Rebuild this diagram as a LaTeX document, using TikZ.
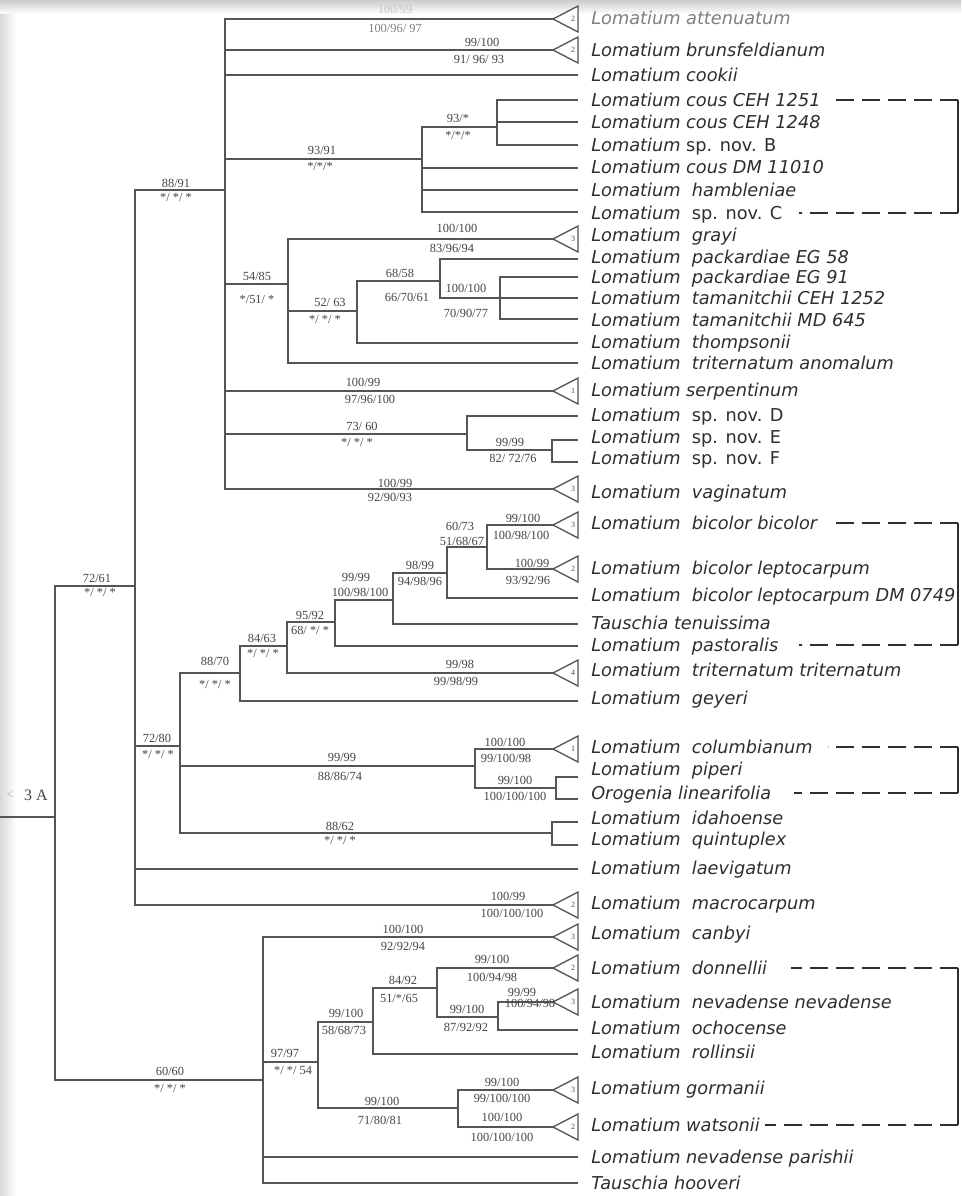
\documentclass[tikz,border=0pt]{standalone}
\usepackage{fontspec}
\setmainfont{Liberation Serif}
\newfontfamily\taxfont{DejaVu Sans}
\usetikzlibrary{calc}
\definecolor{lc}{HTML}{555555}
\definecolor{tc}{HTML}{2E2E2E}
\definecolor{sc}{HTML}{454545}
\newcommand\Lo{Lomatium\hspace{0.64em}}
\begin{document}
\begin{tikzpicture}[x=0.75pt,y=-0.75pt,
  br/.style={draw=lc,line width=1.3pt},
  sup/.style={font=\fontsize{9.3}{10}\selectfont,text=sc,inner sep=0pt},
  tax/.style={font=\taxfont\itshape\fontsize{13.3}{15}\selectfont,text=tc,anchor=base west,inner sep=0pt},
  clade/.style={draw=lc,line width=1pt,fill=white},
  cnum/.style={font=\fontsize{6}{6}\selectfont,text=sc,inner sep=0pt},
  dsh/.style={draw=tc,line width=1.4pt,dash pattern=on 13.5pt off 6pt},
  vbar/.style={draw=tc,line width=1pt}]
\useasboundingbox (0,0) rectangle (961,1196);
\fill[white] (0,0) rectangle (961,1196);
\shade[top color=gray!40,bottom color=white] (0,0) rectangle (961,14);
\shade[left color=gray!30,right color=white] (0,14) rectangle (16,1196);

% ---------- internal nodes ----------
\coordinate (S0) at (0,817);
\coordinate (R) at (55,817);
\coordinate (A) at (135,586);
\coordinate (B) at (263,1080);
\coordinate (A1) at (225,190);
\coordinate (A2) at (180,746);
\coordinate (C1) at (422,159);
\coordinate (C2) at (497,127);
\coordinate (C3) at (288,284);
\coordinate (C4) at (357,311);
\coordinate (C5) at (440,281);
\coordinate (C6) at (500,298);
\coordinate (C7) at (467,434);
\coordinate (C8) at (552,450);
\coordinate (D1) at (240,673);
\coordinate (D2) at (287,646);
\coordinate (D3) at (335,622);
\coordinate (D4) at (393,600);
\coordinate (D5) at (447,573);
\coordinate (D6) at (487,547);
\coordinate (D7) at (475,766);
\coordinate (D8) at (556,788);
\coordinate (D9) at (552,833);
\coordinate (E1) at (318,1062);
\coordinate (E2) at (373,1022);
\coordinate (E3) at (437,988);
\coordinate (E4) at (498,1017);
\coordinate (E5) at (458,1108);

% ---------- tips ----------
\coordinate (t01) at (553,19);
\coordinate (t02) at (553,50);
\coordinate (t03) at (578,75);
\coordinate (t04) at (578,100);
\coordinate (t05) at (578,122);
\coordinate (t06) at (578,145);
\coordinate (t07) at (578,168);
\coordinate (t08) at (578,190);
\coordinate (t09) at (578,212);
\coordinate (t10) at (553,239);
\coordinate (t11) at (578,259);
\coordinate (t12) at (578,277);
\coordinate (t13) at (578,298);
\coordinate (t14) at (578,319);
\coordinate (t15) at (578,343);
\coordinate (t16) at (578,363);
\coordinate (t17) at (553,391);
\coordinate (t18) at (578,416);
\coordinate (t19) at (578,440);
\coordinate (t20) at (578,462);
\coordinate (t21) at (553,489);
\coordinate (t22) at (553,525);
\coordinate (t23) at (553,569);
\coordinate (t24) at (578,598);
\coordinate (t25) at (578,624);
\coordinate (t26) at (578,646);
\coordinate (t27) at (553,673);
\coordinate (t28) at (578,701);
\coordinate (t29) at (553,749);
\coordinate (t30) at (578,777);
\coordinate (t31) at (578,799);
\coordinate (t32) at (578,822);
\coordinate (t33) at (578,845);
\coordinate (t34) at (578,869);
\coordinate (t35) at (553,905);
\coordinate (t36) at (553,937);
\coordinate (t37) at (553,968);
\coordinate (t38) at (553,1002);
\coordinate (t39) at (578,1030);
\coordinate (t40) at (578,1054);
\coordinate (t41) at (553,1090);
\coordinate (t42) at (553,1127);
\coordinate (t43) at (578,1157);
\coordinate (t44) at (578,1183);

% ---------- branches ----------
\draw[br] (S0) -- (R);
\foreach \p/\c in {R/A,R/B,A/A1,A/A2,A/t34,A/t35,
  A1/t01,A1/t02,A1/t03,A1/C1,A1/C3,A1/t17,A1/C7,A1/t21,
  C1/C2,C1/t07,C1/t08,C1/t09,C2/t04,C2/t05,C2/t06,
  C3/t10,C3/C4,C3/t16,C4/C5,C4/t15,C5/t11,C5/C6,C6/t12,C6/t13,C6/t14,
  C7/t18,C7/C8,C8/t19,C8/t20,
  A2/D1,A2/D7,A2/D9,D1/D2,D1/t28,D2/D3,D2/t27,D3/D4,D3/t26,D4/D5,D4/t25,
  D5/D6,D5/t24,D6/t22,D6/t23,D7/t29,D7/D8,D8/t30,D8/t31,D9/t32,D9/t33,
  B/t36,B/E1,B/t43,B/t44,E1/E2,E1/E5,E2/E3,E2/t40,E3/t37,E3/E4,E4/t38,E4/t39,
  E5/t41,E5/t42}
  \draw[br] (\p) |- (\c);

% ---------- collapsed clades ----------
\foreach \t/\n in {t01/2,t02/2,t10/3,t17/1,t21/3,t22/3,t23/2,t27/4,t29/1,
  t35/2,t36/3,t37/2,t38/3,t41/3,t42/2}{
  \draw[clade] (\t) -- ++(25,-13) -- ++(0,26) -- cycle;
  \node[cnum] (k\t) at ($(\t)+(20,0)$) {\n};
}

% ---------- taxa ----------
\node[tax,text=gray] (n01) at (591,24) {Lomatium attenuatum};
\node[tax] (n02) at (591,56) {Lomatium brunsfeldianum};
\node[tax] (n03) at (591,81) {Lomatium cookii};
\node[tax] (n04) at (591,106) {Lomatium cous CEH 1251};
\node[tax] (n05) at (591,128) {Lomatium cous CEH 1248};
\node[tax] (n06) at (591,151) {Lomatium {\upshape sp. nov. B}};
\node[tax] (n07) at (591,173) {Lomatium cous DM 11010};
\node[tax] (n08) at (591,196) {\Lo hambleniae};
\node[tax] (n09) at (591,219) {\Lo {\upshape sp. nov. C}};
\node[tax] (n10) at (591,241) {\Lo grayi};
\node[tax] (n11) at (591,263) {\Lo packardiae EG 58};
\node[tax] (n12) at (591,283) {\Lo packardiae EG 91};
\node[tax] (n13) at (591,304) {\Lo tamanitchii CEH 1252};
\node[tax] (n14) at (591,326) {\Lo tamanitchii MD 645};
\node[tax] (n15) at (591,348) {\Lo thompsonii};
\node[tax] (n16) at (591,369) {\Lo triternatum anomalum};
\node[tax] (n17) at (591,396) {Lomatium serpentinum};
\node[tax] (n18) at (591,421) {\Lo {\upshape sp. nov. D}};
\node[tax] (n19) at (591,443) {\Lo {\upshape sp. nov. E}};
\node[tax] (n20) at (591,464) {\Lo {\upshape sp. nov. F}};
\node[tax] (n21) at (591,498) {\Lo vaginatum};
\node[tax] (n22) at (591,529) {\Lo bicolor bicolor};
\node[tax] (n23) at (591,574) {\Lo bicolor leptocarpum};
\node[tax] (n24) at (591,601) {\Lo bicolor leptocarpum DM 0749};
\node[tax] (n25) at (591,629) {Tauschia tenuissima};
\node[tax] (n26) at (591,651) {\Lo pastoralis};
\node[tax] (n27) at (591,676) {\Lo triternatum triternatum};
\node[tax] (n28) at (591,704) {\Lo geyeri};
\node[tax] (n29) at (591,753) {\Lo columbianum};
\node[tax] (n30) at (591,775) {\Lo piperi};
\node[tax] (n31) at (591,799) {Orogenia linearifolia};
\node[tax] (n32) at (591,824) {\Lo idahoense};
\node[tax] (n33) at (591,845) {\Lo quintuplex};
\node[tax] (n34) at (591,874) {\Lo laevigatum};
\node[tax] (n35) at (591,909) {\Lo macrocarpum};
\node[tax] (n36) at (591,939) {\Lo canbyi};
\node[tax] (n37) at (591,974) {\Lo donnellii};
\node[tax] (n38) at (591,1008) {\Lo nevadense nevadense};
\node[tax] (n39) at (591,1034) {\Lo ochocense};
\node[tax] (n40) at (591,1058) {\Lo rollinsii};
\node[tax] (n41) at (591,1094) {Lomatium gormanii};
\node[tax] (n42) at (591,1131) {Lomatium watsonii};
\node[tax] (n43) at (591,1163) {Lomatium nevadense parishii};
\node[tax] (n44) at (591,1189) {Tauschia hooveri};

% ---------- dashed brackets ----------
\coordinate (rx) at (958,0);
\path ($(n04.base east)+(8,-6)$) coordinate (b1s);
\path ($(n09.base east)+(16,-6)$) coordinate (b1e);
\path ($(n22.base east)+(11,-6)$) coordinate (b2s);
\path ($(n26.base east)+(20,-6)$) coordinate (b2e);
\path ($(n29.base east)+(15,-6)$) coordinate (b3s);
\path ($(n31.base east)+(23,-6)$) coordinate (b3e);
\path ($(n37.base east)+(24,-6)$) coordinate (b4s);
\path ($(n42.base east)+(5,-6)$) coordinate (b4e);
\foreach \s/\e in {b1s/b1e,b2s/b2e,b3s/b3e,b4s/b4e}{
  \draw[dsh] (\s -| rx) -- (\s);
  \draw[dsh] (\e -| rx) -- (\e);
  \draw[vbar] (\s -| rx) -- (\e -| rx);
}

% ---------- root label ----------
\node[font=\fontsize{12}{12}\selectfont,text=sc] (lab3A) at (36,795) {3 A};
\node[font=\fontsize{9}{9}\selectfont,text=gray!70] (labarr) at (10,795) {<};

% ---------- support values ----------
\node[sup,text=gray!45] (s01a) at (395,9) {100/99};
\node[sup,text=gray] (s01b) at (395,28) {100/96/ 97};
\node[sup] (s02a) at (482,42) {99/100};
\node[sup] (s02b) at (479,59) {91/ 96/ 93};
\node[sup] (sC1a) at (322,150) {93/91};
\node[sup] (sC1b) at (320,166) {*/*/*};
\node[sup] (sC2a) at (458,118) {93/*};
\node[sup] (sC2b) at (458,135) {*/*/*};
\node[sup] (s10a) at (457,228) {100/100};
\node[sup] (s10b) at (452,248) {83/96/94};
\node[sup] (sC3a) at (257,276) {54/85};
\node[sup] (sC3b) at (257,299) {*/51/ *};
\node[sup] (sC5a) at (400,273) {68/58};
\node[sup] (sC5b) at (407,297) {66/70/61};
\node[sup] (sC6a) at (466,288) {100/100};
\node[sup] (sC6b) at (466,313) {70/90/77};
\node[sup] (sC4a) at (330,302) {52/ 63};
\node[sup] (sC4b) at (325,319) {*/ */ *};
\node[sup] (s17a) at (363,382) {100/99};
\node[sup] (s17b) at (370,399) {97/96/100};
\node[sup] (sC7a) at (362,426) {73/ 60};
\node[sup] (sC7b) at (357,442) {*/ */ *};
\node[sup] (sC8a) at (510,442) {99/99};
\node[sup] (sC8b) at (513,458) {82/ 72/76};
\node[sup] (s21a) at (395,483) {100/99};
\node[sup] (s21b) at (390,497) {92/90/93};
\node[sup] (sA1a) at (176,183) {88/91};
\node[sup] (sA1b) at (176,197) {*/ */ *};
\node[sup] (sAa) at (97,578) {72/61};
\node[sup] (sAb) at (100,592) {*/ */ *};
\node[sup] (sA2a) at (157,738) {72/80};
\node[sup] (sA2b) at (158,754) {*/ */ *};
\node[sup] (sD1a) at (215,661) {88/70};
\node[sup] (sD1b) at (215,684) {*/ */ *};
\node[sup] (sD2a) at (262,638) {84/63};
\node[sup] (sD2b) at (263,653) {*/ */ *};
\node[sup] (sD3a) at (310,615) {95/92};
\node[sup] (sD3b) at (310,630) {68/ */ *};
\node[sup] (sD4a) at (356,577) {99/99};
\node[sup] (sD4b) at (360,592) {100/98/100};
\node[sup] (sD5a) at (420,565) {98/99};
\node[sup] (sD5b) at (420,581) {94/98/96};
\node[sup] (sD6a) at (460,526) {60/73};
\node[sup] (sD6b) at (462,541) {51/68/67};
\node[sup] (s22a) at (523,518) {99/100};
\node[sup] (s22b) at (521,535) {100/98/100};
\node[sup] (s23a) at (532,563) {100/99};
\node[sup] (s23b) at (528,580) {93/92/96};
\node[sup] (s27a) at (460,664) {99/98};
\node[sup] (s27b) at (456,681) {99/98/99};
\node[sup] (sD7a) at (342,757) {99/99};
\node[sup] (sD7b) at (340,776) {88/86/74};
\node[sup] (s29a) at (505,742) {100/100};
\node[sup] (s29b) at (506,758) {99/100/98};
\node[sup] (sD8a) at (515,780) {99/100};
\node[sup] (sD8b) at (515,796) {100/100/100};
\node[sup] (sD9a) at (340,826) {88/62};
\node[sup] (sD9b) at (340,840) {*/ */ *};
\node[sup] (s35a) at (508,896) {100/99};
\node[sup] (s35b) at (512,913) {100/100/100};
\node[sup] (sBa) at (170,1071) {60/60};
\node[sup] (sBb) at (170,1088) {*/ */ *};
\node[sup] (s36a) at (403,929) {100/100};
\node[sup] (s36b) at (403,946) {92/92/94};
\node[sup] (sE1a) at (285,1053) {97/97};
\node[sup] (sE1b) at (293,1070) {*/ */ 54};
\node[sup] (sE2a) at (346,1013) {99/100};
\node[sup] (sE2b) at (344,1030) {58/68/73};
\node[sup] (sE3a) at (403,980) {84/92};
\node[sup] (sE3b) at (399,998) {51/*/65};
\node[sup] (s37a) at (492,959) {99/100};
\node[sup] (s37b) at (492,977) {100/94/98};
\node[sup] (sE4a) at (467,1009) {99/100};
\node[sup] (sE4b) at (466,1027) {87/92/92};
\node[sup] (s38a) at (522,992) {99/99};
\node[sup] (s38b) at (530,1003) {100/94/98};
\node[sup] (sE5a) at (382,1101) {99/100};
\node[sup] (sE5b) at (380,1120) {71/80/81};
\node[sup] (s41a) at (502,1082) {99/100};
\node[sup] (s41b) at (502,1098) {99/100/100};
\node[sup] (s42a) at (502,1117) {100/100};
\node[sup] (s42b) at (502,1137) {100/100/100};
\end{tikzpicture}
\end{document}
